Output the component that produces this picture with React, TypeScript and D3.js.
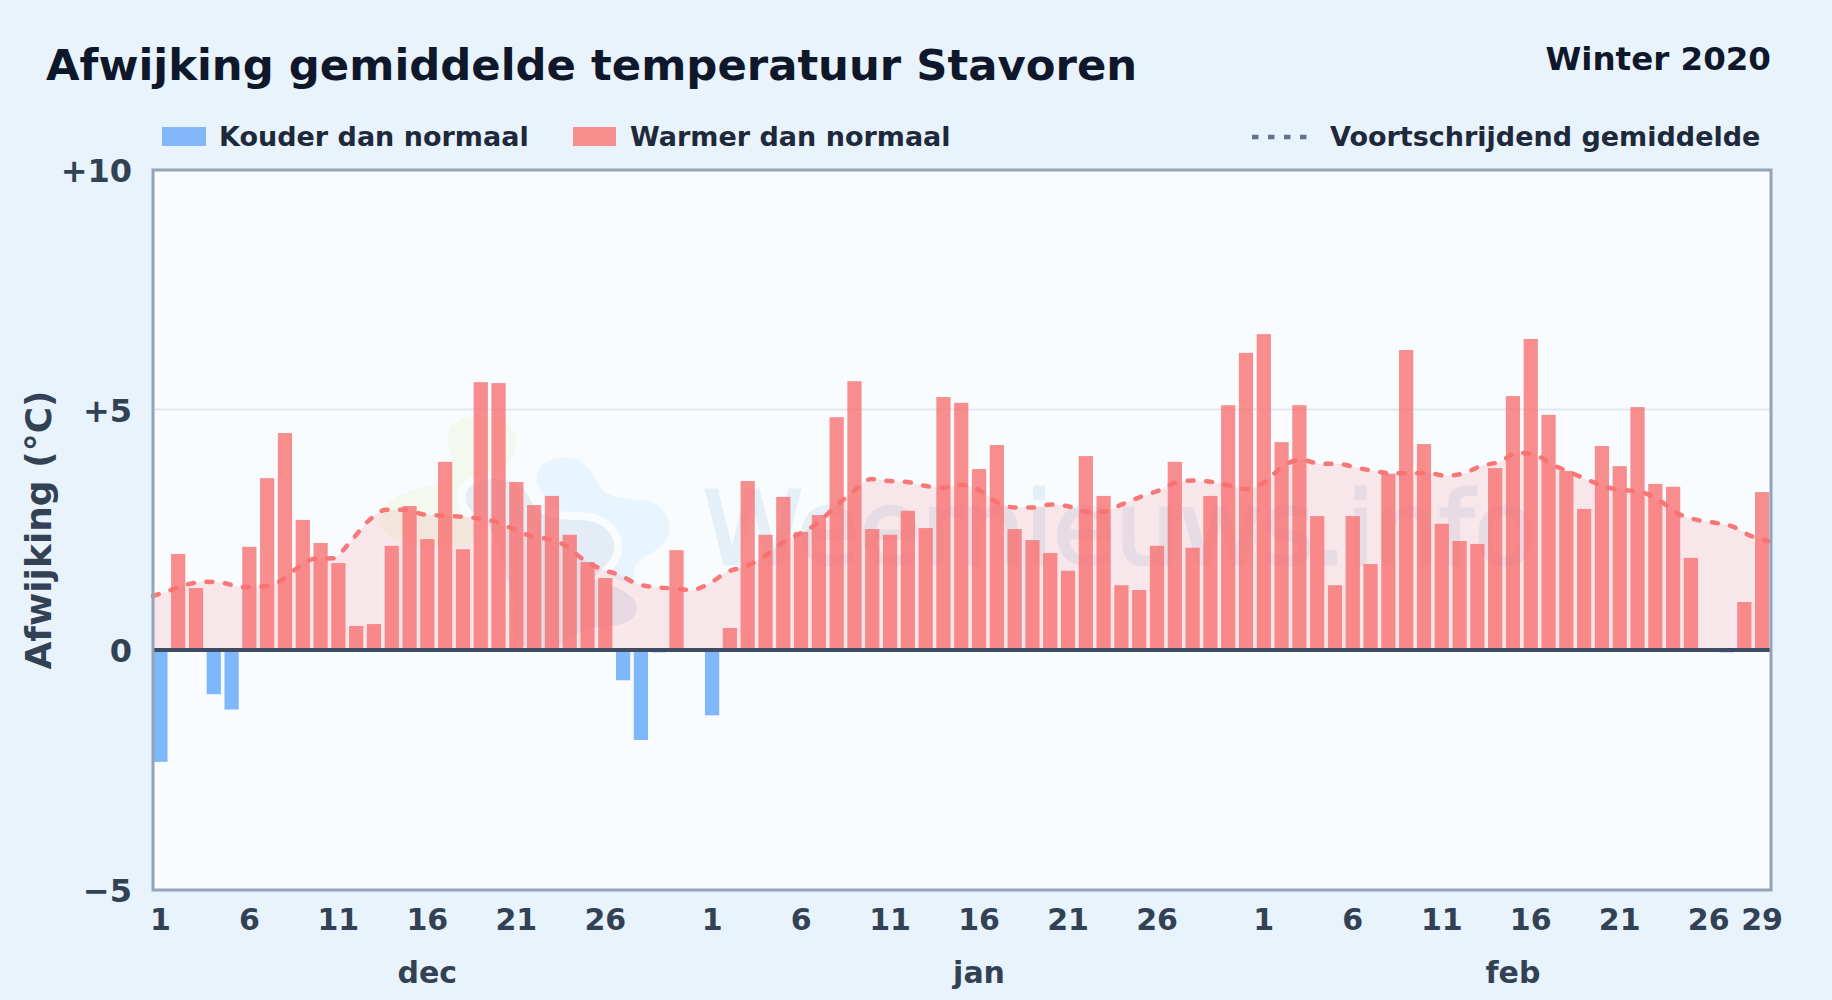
import React from "react";
import * as d3 from "d3";

const TITLE = "Afwijking gemiddelde temperatuur Stavoren";
const SUBTITLE = "Winter 2020";
const LEGEND_COLD = "Kouder dan normaal";
const LEGEND_WARM = "Warmer dan normaal";
const LEGEND_AVG = "Voortschrijdend gemiddelde";
const Y_LABEL = "Afwijking (°C)";
const WATERMARK = "Weernieuws.info";

const months = ["dec", "jan", "feb"];
const monthLengths = [31, 31, 29];
const yTicks = [10, 5, 0, -5];
const yGrid = [5];

const decValues = [-2.33, 2.0, 1.29, -0.92, -1.24, 2.15, 3.58, 4.52, 2.71, 2.23, 1.81, 0.5, 0.54, 2.17, 3.0, 2.31, 3.92, 2.1, 5.58, 5.56, 3.5, 3.02, 3.21, 2.4, 1.83, 1.5, -0.63, -1.875, -0.05, 2.08, 0];
const janValues = [-1.36, 0.46, 3.52, 2.4, 3.19, 2.46, 2.81, 4.85, 5.6, 2.52, 2.4, 2.9, 2.54, 5.27, 5.15, 3.77, 4.27, 2.52, 2.29, 2.02, 1.65, 4.04, 3.21, 1.35, 1.25, 2.17, 3.92, 2.13, 3.21, 5.1, 6.19];
const febValues = [6.58, 4.33, 5.1, 2.79, 1.35, 2.79, 1.79, 3.67, 6.25, 4.29, 2.63, 2.27, 2.21, 3.79, 5.29, 6.48, 4.9, 3.73, 2.94, 4.25, 3.83, 5.06, 3.46, 3.4, 1.92, 0, -0.05, 1.0, 3.29];

const movingAverage = [
  1.125, 1.25, 1.375, 1.42, 1.39, 1.31, 1.32, 1.42, 1.7, 1.9, 1.91, 2.26, 2.69, 2.92, 2.92, 2.83, 2.8, 2.78, 2.75, 2.68, 2.53, 2.38, 2.31, 2.17, 1.875, 1.68, 1.56, 1.37, 1.31, 1.28, 1.25,
  1.39, 1.63, 1.74, 1.94, 2.22, 2.42, 2.64, 2.99, 3.3, 3.56, 3.52, 3.5, 3.42, 3.38, 3.44, 3.33, 3.08, 2.97, 2.97, 3.03, 2.99, 2.88, 2.89, 3.04, 3.19, 3.32, 3.49, 3.53, 3.5, 3.42, 3.35,
  3.53, 3.85, 3.96, 3.88, 3.88, 3.8, 3.73, 3.68, 3.68, 3.69, 3.63, 3.68, 3.84, 3.92, 4.11, 4.06, 3.85, 3.69, 3.53, 3.39, 3.33, 3.28, 3.09, 2.83, 2.71, 2.65, 2.57, 2.375, 2.27,
];

const values = [...decValues, ...janValues, ...febValues];
const FONT = "'DejaVu Sans', sans-serif";

const monthOffsets = monthLengths.map((_, m) => d3.sum(monthLengths.slice(0, m)));
const dayTicks = monthLengths.flatMap((len, m) => {
  const days = d3.range(1, len + 1).filter((d) => (d - 1) % 5 === 0 && d <= 26);
  if (len === 29) days.push(29);
  return days.map((d) => ({ day: d, index: monthOffsets[m] + d - 1 }));
});

const LOGO_GREEN = "M235 100C240 60 300 40 350 48C410 55 445 95 440 135C435 175 410 195 380 215L300 440L150 440C80 430 25 400 30 355C35 300 100 275 170 262C220 250 245 225 245 180C240 150 232 130 235 100Z";
const LOGO_BLUE = "M500 225C505 185 560 165 610 175C650 182 670 225 690 262C715 295 770 298 815 300C870 305 905 345 898 395C890 445 840 455 810 480C790 500 785 520 800 550L700 540L560 400L530 300C510 270 498 255 500 225Z";
const LOGO_NAVY = "M275 290C275 250 320 222 380 225C440 225 480 260 495 300C515 335 560 350 620 348C690 345 745 385 745 440C745 490 700 515 690 530C720 540 810 570 812 620C815 670 760 690 720 690C650 690 610 720 570 750C530 770 480 770 450 745C410 720 405 660 420 620C400 540 370 420 340 370C300 350 275 330 275 290Z";

export default function App() {
  const left = 153, right = 1771, top = 170, bottom = 890;
  const y = d3.scaleLinear().domain([-5, 10]).range([bottom, top]);
  const x = d3.scaleBand<number>().domain(d3.range(values.length)).range([151.5, 1771]).paddingInner(0.2).paddingOuter(0.1);
  const xc = (i: number) => (x(i) as number) + x.bandwidth() / 2;
  const xLine = d3.scaleLinear().domain([0, values.length - 1]).range([left, 1769]);
  const line = d3.line<number>().x((_, i) => xLine(i)).y((d) => y(d)).curve(d3.curveMonotoneX);
  const area = d3.area<number>().x((_, i) => xLine(i)).y0(y(0)).y1((d) => y(d)).curve(d3.curveMonotoneX);

  React.useEffect(() => {
    document.body.style.margin = "0";
    document.body.style.background = "#e8f3fc";
  }, []);

  return (
    <svg width={1832} height={1000} viewBox="0 0 1832 1000" style={{ position: "absolute", left: 0, top: 0, display: "block" }} fontFamily={FONT} fontWeight={700}>
      <rect x={0} y={0} width={1832} height={1000} fill="#e8f3fc" />
      <text x={46} y={79.5} fontSize={43.35} fill="#0f172a">{TITLE}</text>
      <text x={1771} y={70} fontSize={32.5} fill="#0f172a" textAnchor="end">{SUBTITLE}</text>

      <rect x={162} y={127} width={44} height={19} fill="#82b7fc" />
      <text x={219} y={146} fontSize={27} fill="#1e293b">{LEGEND_COLD}</text>
      <rect x={573} y={127} width={43} height={19} fill="#f78f8f" />
      <text x={630} y={146} fontSize={27} fill="#1e293b">{LEGEND_WARM}</text>
      <line x1={1252} x2={1308} y1={137} y2={137} stroke="#64748b" strokeWidth={4.5} strokeDasharray="6.5 9.5" />
      <text x={1330} y={146} fontSize={27} fill="#1e293b">{LEGEND_AVG}</text>

      <rect x={left} y={top} width={right - left} height={bottom - top} fill="#f8fcff" />

      <g transform="translate(370,400) scale(0.3333)">
        <path d={LOGO_GREEN} fill="#f3f9ef" />
        <path d={LOGO_BLUE} fill="#e8f4fe" />
        <path d={LOGO_NAVY} fill="#e4ecf6" stroke="#f9fcff" strokeWidth={24} />
      </g>
      <text x={703} y={564} fontSize={101} fontWeight={400} fill="#6496c8" opacity={0.12} stroke="#6496c8" strokeWidth={3}>{WATERMARK}</text>

      <path d={area(movingAverage) as string} fill="#f87171" opacity={0.15} />

      {yGrid.map((t) => (
        <line key={t} x1={left} x2={right} y1={y(t) - 0.5} y2={y(t) - 0.5} stroke="#e2e8f0" strokeWidth={2} />
      ))}

      {values.map((v, i) => (
        <rect key={i} x={x(i)} width={x.bandwidth()} y={y(Math.max(0, v))} height={Math.abs(y(v) - y(0))} fill={v < 0 ? "#60a5fa" : "#f87171"} opacity={0.8} />
      ))}

      <path d={line(movingAverage) as string} fill="none" stroke="#f87171" strokeWidth={4.5} strokeDasharray="6 12.5" strokeLinecap="round" opacity={0.95} />

      <line x1={left} x2={right} y1={y(0)} y2={y(0)} stroke="#3f4b63" strokeWidth={4} />
      <rect x={left} y={top} width={right - left} height={bottom - top} fill="none" stroke="#94a3b8" strokeWidth={3} />

      {yTicks.map((t) => (
        <text key={t} x={132} y={y(t) + 11.5} fontSize={32} fill="#334155" textAnchor="end">
          {t > 0 ? `+${t}` : t < 0 ? `\u2212${Math.abs(t)}` : "0"}
        </text>
      ))}
      {dayTicks.map((t) => (
        <text key={t.index} x={xc(t.index)} y={930} fontSize={30} fill="#334155" textAnchor="middle">{t.day}</text>
      ))}
      {months.map((m, k) => (
        <text key={m} x={xc(monthOffsets[k] + Math.floor(monthLengths[k] / 2))} y={983} fontSize={30} fill="#334155" textAnchor="middle">{m}</text>
      ))}
      <text transform={`translate(51,${(top + bottom) / 2}) rotate(-90)`} fontSize={36} fill="#334155" textAnchor="middle">{Y_LABEL}</text>
    </svg>
  );
}
